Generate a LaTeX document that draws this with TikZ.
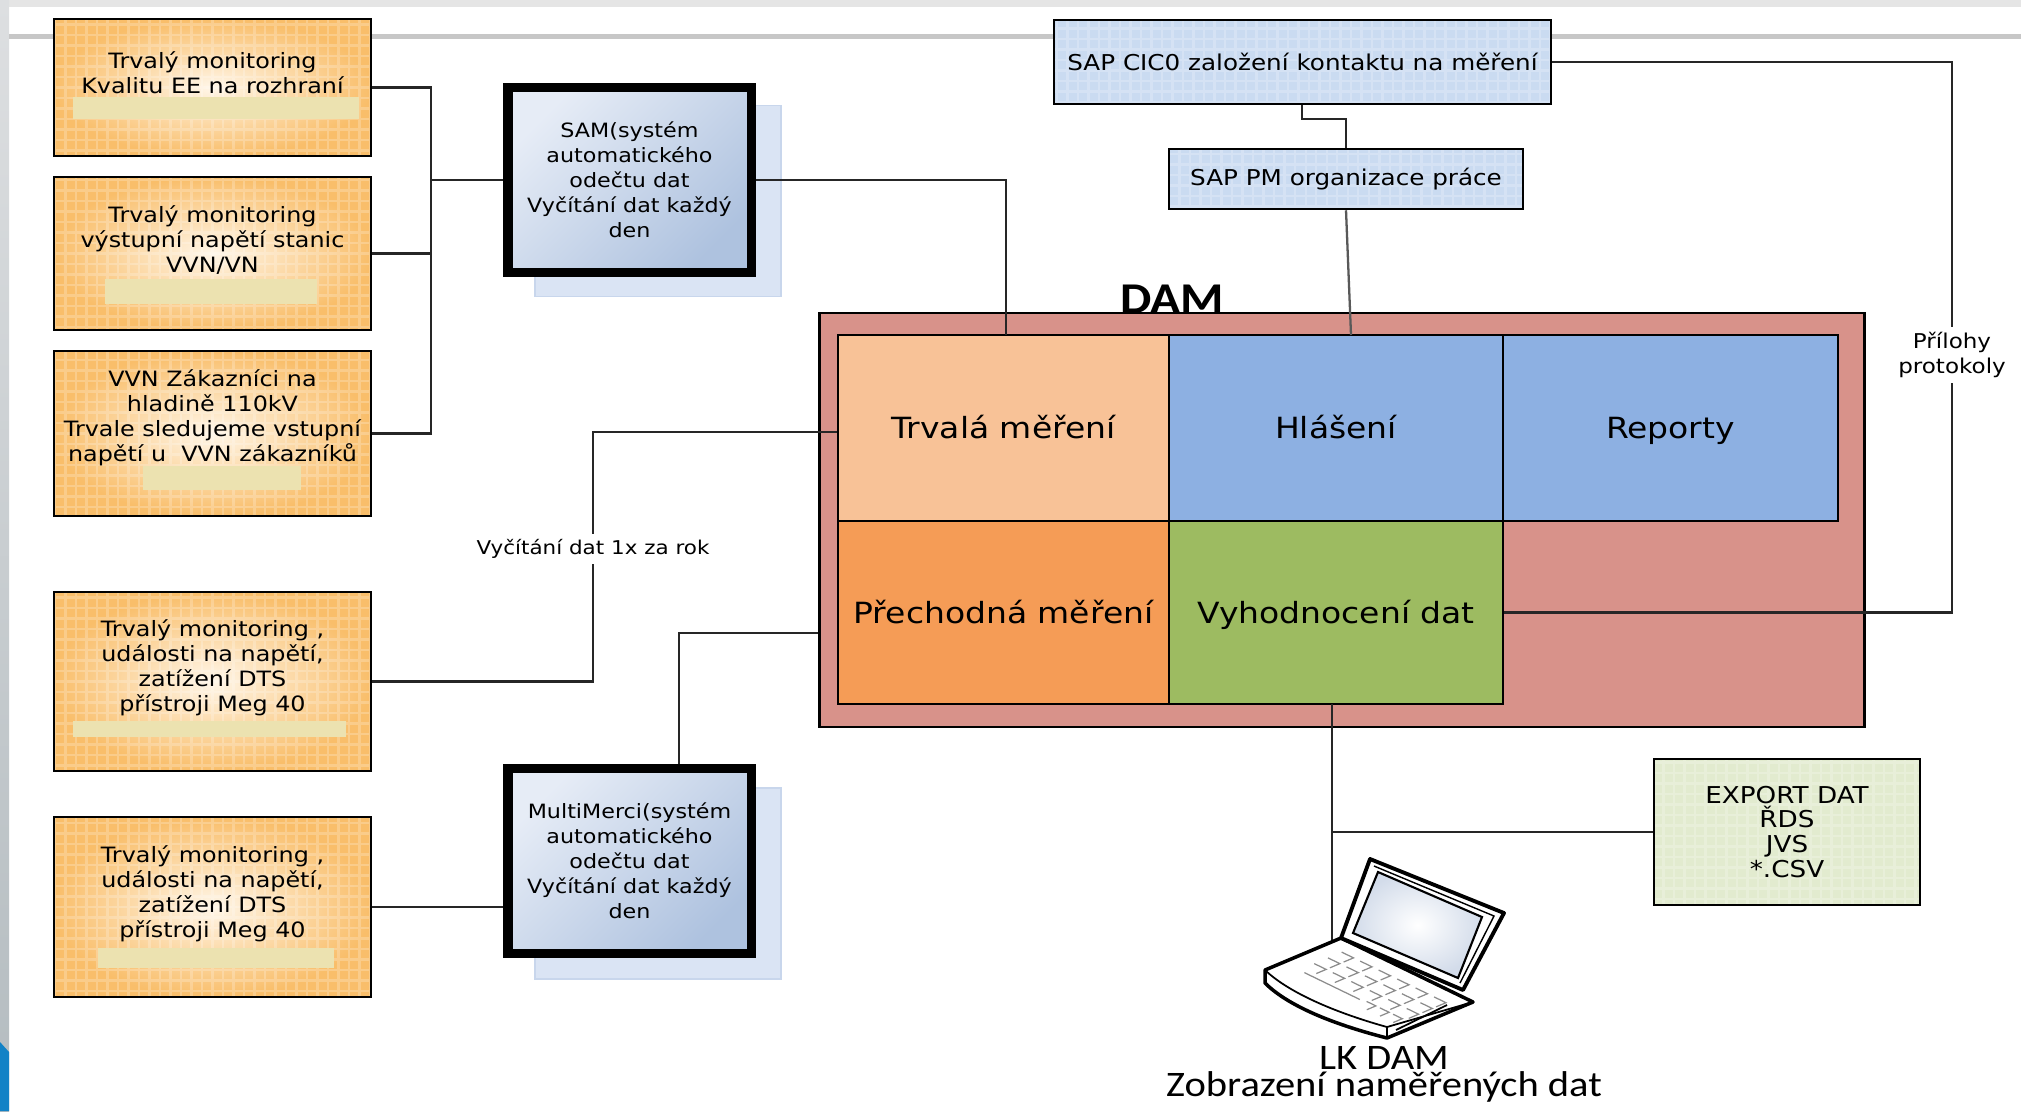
\documentclass[tikz,border=0pt]{standalone}
\usepackage{fontspec}
\setmainfont{DejaVu Sans}
\newfontfamily\wideFont[FakeStretch=1.13]{DejaVu Sans}
\newfontfamily\carlitoFont[FakeStretch=1.13]{Carlito}
\usetikzlibrary{positioning}
\definecolor{monOuter}{HTML}{F9BE6A}
\definecolor{monInner}{HTML}{FFF6E8}
\definecolor{barPale}{HTML}{ECE2B0}
\definecolor{sapFill}{HTML}{CADBF1}
\definecolor{exportFill}{HTML}{E2EBCF}
\definecolor{shadeFill}{HTML}{DAE4F4}
\definecolor{shadeLine}{HTML}{C8D6EC}
\definecolor{samLight}{HTML}{E6ECF6}
\definecolor{samDark}{HTML}{AEC2DF}
\definecolor{damFill}{HTML}{D8928A}
\definecolor{cellPeach}{HTML}{F8C297}
\definecolor{cellBlue}{HTML}{8DB0E2}
\definecolor{cellOrange}{HTML}{F59C56}
\definecolor{cellGreen}{HTML}{9DBB61}
\definecolor{cornerBlue}{HTML}{1282C6}
\definecolor{screenOuter}{HTML}{D3DCEA}
\definecolor{bandTop}{HTML}{DDDFE1}
\definecolor{bandLow}{HTML}{B4BCC0}
\newcommand{\smallText}{\wideFont\fontsize{6}{7.1}\selectfont}
\newcommand{\cellText}{\wideFont\fontsize{8.3}{10}\selectfont}
%% One pale bar inside a monitoring box.
\newcommand{\myBar}[4]{%%
  \fill[barPale] (#1,#2) rectangle (#3,#4);
}
\begin{document}
\begin{tikzpicture}[%%
  x=0.01cm,y=-0.01cm,
  lineStyle/.style={-,line width=0.65pt,black!85},%%
  gridStyle/.style={path picture={\draw[white,opacity=0.22,step=0.105cm]
    (path picture bounding box.south west) grid
    (path picture bounding box.north east);}},%%
  monStyle/.style={draw=black,line width=0.7pt,shading=radial,inner color=monInner,
    outer color=monOuter,gridStyle,minimum width=3.17cm,inner sep=0pt},%%
  monText/.style={inner sep=0pt,align=center,font=\smallText},%%
  sapStyle/.style={draw=black,line width=0.7pt,fill=sapFill,gridStyle,inner sep=0pt,
    align=center,font=\wideFont\fontsize{6.2}{7.1}\selectfont},%%
  samStyle/.style={draw=black,line width=2.6pt,left color=samLight,right color=samDark,
    shading angle=45,minimum width=2.43cm,minimum height=1.85cm,inner sep=0pt,
    align=center,font=\wideFont\fontsize{5.6}{7.1}\selectfont},%%
  shadeStyle/.style={draw=shadeLine,fill=shadeFill,minimum width=2.46cm,
    minimum height=1.91cm,inner sep=0pt},%%
  cellStyle/.style={draw=black,line width=0.7pt,inner sep=0pt,font=\cellText,
    text height=1.6ex,text depth=0.5ex},%%
  tagStyle/.style={fill=white,inner sep=1.5pt,align=center,
    font=\wideFont\fontsize{5.4}{6.9}\selectfont},%%
  keyStyle/.style={draw=black!45,line width=0.35pt}
]
%%
%% The page behind the diagram.
\useasboundingbox (0,0) rectangle (2021,1111);
\fill[black!10] (0,0) rectangle (2021,7);
\shade[top color=bandTop,bottom color=bandLow] (0,0) rectangle (9,1111);
\fill[black!22] (9,33.5) rectangle (2021,38.5);
\fill[cornerBlue] (0,1042) -- (9,1052) -- (9,1111) -- (0,1111) -- cycle;
%%
%% The monitoring boxes.
\node[monStyle,minimum height=1.37cm] (monA) at (212.5,87.5) {};
\node[monStyle,minimum height=1.53cm] (monB) at (212.5,253.5) {};
\node[monStyle,minimum height=1.65cm] (monC) at (212.5,433.5) {};
\node[monStyle,minimum height=1.79cm] (monD) at (212.5,681.5) {};
\node[monStyle,minimum height=1.80cm] (monE) at (212.5,907) {};
\myBar{73}{97}{359}{119}
\myBar{105}{279}{317}{304}
\myBar{143}{466}{301}{490}
\myBar{73}{721}{346}{737}
\myBar{98}{948}{334}{968}
%% The texts of the monitoring boxes.
\node[monText] (monAText) at (212.5,73) {Trvalý monitoring\\Kvalitu EE na rozhraní};
\node[monText] (monBText) at (212.5,240) {Trvalý monitoring\\výstupní napětí stanic\\VVN/VN};
\node[monText] (monCText) at (212.5,418) {VVN Zákazníci na\\hladině 110kV\\Trvale sledujeme vstupní\\napětí u\ \ VVN zákazníků};
\node[monText] (monDText) at (212.5,668) {Trvalý monitoring ,\\události na napětí,\\zatížení DTS\\přístroji Meg 40};
\node[monText] (monEText) at (212.5,894) {Trvalý monitoring ,\\události na napětí,\\zatížení DTS\\přístroji Meg 40};
%%
%% The two reading systems with their shadows.
\node[shadeStyle] (samShade) at (658,201) {};
\node[samStyle] (samBox) at (629.5,180)
  {SAM(systém\\automatického\\odečtu dat\\Vyčítání dat každý\\den};
\node[shadeStyle] (multiShade) at (658,883.5) {};
\node[samStyle] (multiBox) at (629.5,861)
  {MultiMerci(systém\\automatického\\odečtu dat\\Vyčítání dat každý\\den};
%%
%% The SAP boxes.
\node[sapStyle,minimum width=4.97cm,minimum height=0.84cm] (sapCic) at (1302.5,62)
  {SAP CIC0 založení kontaktu na měření};
\node[sapStyle,minimum width=3.54cm,minimum height=0.60cm] (sapPm) at (1346,179)
  {SAP PM organizace práce};
%%
%% The DAM block and its cells.
\node[draw=black,line width=0.7pt,fill=damFill,minimum width=10.44cm,minimum height=4.14cm,
  inner sep=0pt] (damBox) at (1342,520) {};
\node[font=\carlitoFont\fontsize{12.5}{14}\selectfont\bfseries,inner sep=0pt] (damTitle) at (1172,299) {DAM};
\node[cellStyle,fill=cellPeach,minimum width=3.31cm,minimum height=1.86cm] (cellA) at (1003.5,428) {Trvalá měření};
\node[cellStyle,fill=cellBlue,minimum width=3.34cm,minimum height=1.86cm] (cellB) at (1336,428) {Hlášení};
\node[cellStyle,fill=cellBlue,minimum width=3.35cm,minimum height=1.86cm] (cellC) at (1670.5,428) {Reporty};
\node[cellStyle,fill=cellOrange,minimum width=3.31cm,minimum height=1.83cm] (cellD) at (1003.5,612.5) {Přechodná měření};
\node[cellStyle,fill=cellGreen,minimum width=3.34cm,minimum height=1.83cm] (cellE) at (1336,612.5) {Vyhodnocení dat};
%%
%% The export box.
\node[sapStyle,fill=exportFill,minimum width=2.66cm,minimum height=1.46cm,
  font=\wideFont\fontsize{6.6}{7.1}\selectfont] (exportBox) at (1787,832)
  {EXPORT DAT\\ŘDS\\JVS\\*.CSV};
%%
%% Where the connectors turn.
\coordinate (readTurn) at (593,432);
\coordinate (multiTurn) at (679,633);
\coordinate (cicTurn) at (1302,119);
\coordinate (rightTurn) at (1952,62);
\coordinate (pmEnd) at (1351,335);
\coordinate (busTurn) at (431,180);
\coordinate (samDrop) at (1006,335);
\coordinate (dropTop) at (1332,704);
\coordinate (dropMid) at (1332,832);
\coordinate (lapHinge) at (1332,942);
%%
%% The connectors.
\draw[lineStyle] (monA.east) -| (busTurn);
\draw[lineStyle] (monB.east) -| (busTurn);
\draw[lineStyle] (monC.east) -| (busTurn);
\draw[lineStyle] (busTurn) -- (samBox.west);
\draw[lineStyle] (samBox.east) -| (samDrop);
\draw[lineStyle] (monD.east) -| (readTurn) -- (readTurn -| cellA.west);
\draw[lineStyle] (monE.east) -- (monE.east -| multiBox.west);
\draw[lineStyle] (multiTurn |- multiBox.north) -- (multiTurn) -- (multiTurn -| damBox.west);
\draw[lineStyle] (cicTurn |- sapCic.south) -- (cicTurn) -| (sapPm.north);
\draw[lineStyle,black!65] (sapPm.south) -- (pmEnd);
\draw[lineStyle] (sapCic.east) -- (rightTurn) |- (cellE.east);
\draw[lineStyle] (dropTop) -- (lapHinge);
\draw[lineStyle] (dropMid) -- (exportBox.west);
%%
%% The labels on the connectors.
\node[tagStyle] (tagRead) at (593,549) {Vyčítání dat 1x za rok};
\node[tagStyle,font=\wideFont\fontsize{5.8}{6.9}\selectfont] (tagFiles) at (1952,355) {Přílohy\\protokoly};
%%
%% The laptop: base first, then the lid.
\draw[line width=1pt,fill=white,line join=round] (1265,970) -- (1341,938) -- (1473,1002)
  -- (1387,1038) .. controls (1340,1026) and (1290,1008) .. (1265,983) -- cycle;
\draw[line width=0.5pt] (1265,970) .. controls (1290,994) and (1340,1014) .. (1387,1027) -- (1473,1002);
\draw[line width=0.5pt] (1387,1027) -- (1387,1038);
\draw[line width=0.5pt] (1396,1030) -- (1447,1005);
\begin{scope}[shift={(1341,938)},x={(1.32cm,-0.64cm)},y={(-0.76cm,-0.32cm)}]
  \foreach \u in {0.12,0.26,0.40,0.54,0.68,0.82}{
    \foreach \v in {0.2,0.38,0.56}{
      \draw[keyStyle] (\u,\v) -- (\u+0.09,\v) -- (\u+0.09,\v+0.13);
    }
  }
  \draw[keyStyle] (0.16,0.76) -- (0.58,0.76);
  \foreach \u in {0.62,0.72,0.82}{
    \draw[keyStyle] (\u,0.74) -- (\u+0.07,0.74) -- (\u+0.07,0.86);
  }
\end{scope}
\draw[line width=1.1pt,fill=white,line join=round] (1370,859) -- (1504,913) -- (1463,990) -- (1341,938) -- cycle;
\draw[line width=0.4pt] (1374,866) -- (1494,916) -- (1460,983);
\shade[inner color=white,outer color=screenOuter,draw=black,line width=0.6pt]
  (1378,872) -- (1482,917) -- (1458,978) -- (1353,933) -- cycle;
\node[font=\carlitoFont\fontsize{10.2}{7.7}\selectfont,align=center,inner sep=0pt] (lapLabel) at (1384,1074)
  {LK DAM\\Zobrazení naměřených dat};
\end{tikzpicture}
\end{document}
